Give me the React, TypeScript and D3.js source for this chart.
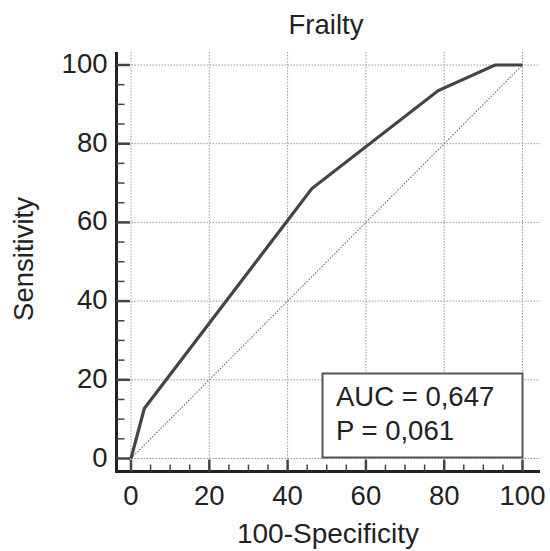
import React from "react";
import * as d3 from "d3";

const rocX = [0, 3.4, 46.2, 78.5, 93, 100];
const rocY = [0, 12.7, 68.6, 93.5, 100, 100];
const majorTicks = [0, 20, 40, 60, 80, 100];
const minorTicks = d3.range(0, 101, 5).filter((v) => v % 20 !== 0);
const title = "Frailty";
const xTitle = "100-Specificity";
const yTitle = "Sensitivity";
const legendLines = ["AUC = 0,647", "P = 0,061"];

export default function App() {
  const W = 550, H = 551;
  const x = d3.scaleLinear().domain([0, 100]).range([131, 522.5]);
  const y = d3.scaleLinear().domain([0, 100]).range([458.5, 65]);
  const axisX = 116.5;
  const axisY = 471.5;
  const font = "'Liberation Sans', Arial, sans-serif";
  const ink = "#222";
  const fs = 27.5;
  const line = d3.line<number>().x((_, i) => x(rocX[i])).y((_, i) => y(rocY[i]));
  const pts = rocX.map((_, i) => i);

  return (
    <svg width={W} height={H} style={{ position: "absolute", left: 0, top: 0 }} fontFamily={font}>
      <rect width={W} height={H} fill="#fff" />
      {/* grid */}
      {majorTicks.map((t) => (
        <g key={"g" + t}>
          <line x1={x(t)} x2={x(t)} y1={52} y2={axisY} stroke="#999" strokeWidth={1} strokeDasharray="1.5,1.5" />
          <line x1={axisX} x2={540} y1={y(t)} y2={y(t)} stroke="#999" strokeWidth={1} strokeDasharray="1.5,1.5" />
        </g>
      ))}
      {/* diagonal */}
      <line x1={x(0)} y1={y(0)} x2={x(100)} y2={y(100)} stroke="#777" strokeWidth={1.2} strokeDasharray="1.5,1.5" />
      {/* ROC curve */}
      <path d={line(pts) || ""} fill="none" stroke="#444" strokeWidth={3.2} strokeLinejoin="miter" />
      {/* axes */}
      <line x1={axisX} x2={axisX} y1={52} y2={axisY + 1.5} stroke={ink} strokeWidth={3} />
      <line x1={axisX - 1.5} x2={540} y1={axisY} y2={axisY} stroke={ink} strokeWidth={3} />
      {majorTicks.map((t) => (
        <g key={"t" + t}>
          <line x1={axisX} x2={x(0) - 1} y1={y(t)} y2={y(t)} stroke="#444" strokeWidth={2.5} />
          <line x1={x(t)} x2={x(t)} y1={axisY} y2={y(0) + 1} stroke="#444" strokeWidth={2.5} />
          <text x={axisX - 9} y={y(t) + 8} textAnchor="end" fontSize={fs} fill={ink}>{t}</text>
          <text x={x(t)} y={505} textAnchor="middle" fontSize={fs} fill={ink}>{t}</text>
        </g>
      ))}
      {minorTicks.map((t) => (
        <g key={"m" + t}>
          <line x1={axisX} x2={axisX + 8} y1={y(t)} y2={y(t)} stroke="#444" strokeWidth={1.5} />
          <line x1={x(t)} x2={x(t)} y1={axisY} y2={axisY - 7} stroke="#444" strokeWidth={1.5} />
        </g>
      ))}
      {/* titles */}
      <text x={326} y={33.5} textAnchor="middle" fontSize={fs} fill={ink}>{title}</text>
      <text x={328} y={543} textAnchor="middle" fontSize={28} fill={ink}>{xTitle}</text>
      <text transform={`translate(33,259) rotate(-90)`} textAnchor="middle" fontSize={fs} fill={ink}>{yTitle}</text>
      {/* legend */}
      <rect x={322.5} y={373.5} width={200} height={84} fill="#fff" stroke="#555" strokeWidth={2} />
      {legendLines.map((s, i) => (
        <text key={s} x={336} y={405.5 + i * 34} fontSize={fs} fill={ink}>{s}</text>
      ))}
    </svg>
  );
}
